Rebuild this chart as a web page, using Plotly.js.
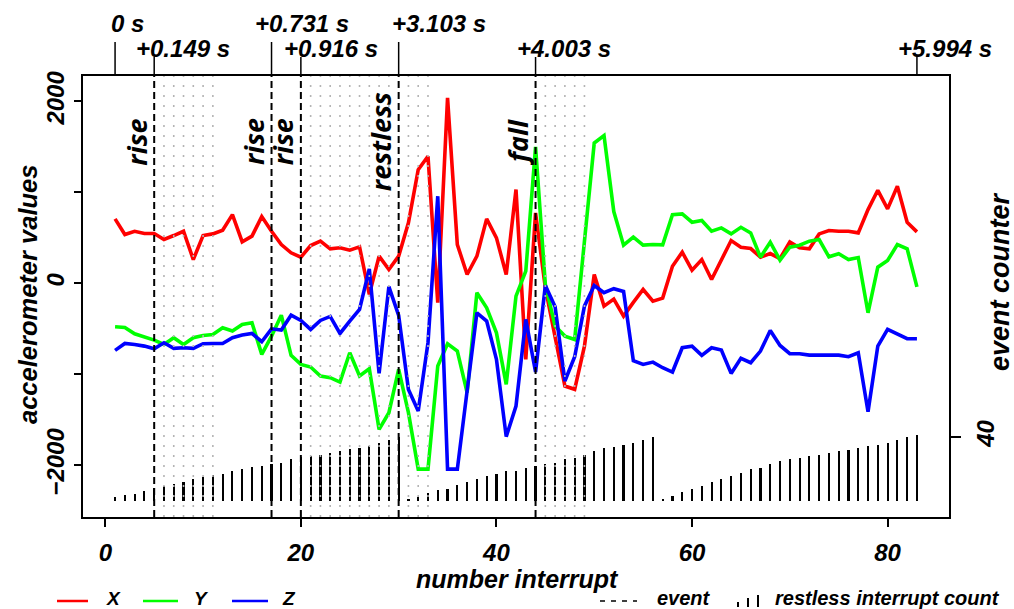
<!DOCTYPE html>
<html>
<head>
<meta charset="utf-8">
<script src="https://cdn.plot.ly/plotly-3.0.1.min.js"></script>
<style>html,body{margin:0;padding:0;background:#fff;}#chart{width:1014px;height:609px;}</style>
</head>
<body>
<div id="chart"></div>
<script>
// ---- data ----
const accX = [710,538,574,549,549,483,527,574,263,527,545,585,757,457,520,735,574,428,337,289,
  417,465,381,392,366,402,-120,300,154,300,666,1251,1398,-210,2040,428,99,300,710,501,
  99,1032,-834,776,-50,-578,-1127,-1163,-688,99,-249,-172,-359,-208,-66,-194,-161,190,344,146,
  263,44,263,472,399,384,289,329,274,457,392,381,545,582,574,574,556,812,1024,820,
  1068,673,567];
const accY = [-476,-483,-553,-585,-622,-670,-596,-670,-596,-571,-560,-487,-523,-450,-432,-779,-578,-348,-790,-889,
  -918,-1017,-1035,-1083,-761,-1017,-937,-1603,-1420,-944,-1420,-2040,-2040,-907,-662,-743,-1200,-102,-267,-542,
  -1109,-139,135,1500,-10,-468,-578,-615,450,1544,1625,790,421,509,421,428,424,757,765,673,
  692,574,611,545,618,556,289,454,256,399,421,465,483,293,326,263,285,-322,179,252,
  428,381,-37];
const accZ = [-735,-659,-670,-688,-717,-651,-713,-706,-713,-662,-659,-659,-596,-567,-549,-640,-498,-512,-348,-406,
  -505,-406,-362,-549,-413,-285,161,-988,-35,-350,-1164,-1401,-651,959,-2040,-2040,-1180,-322,-413,-834,
  -1683,-1347,-395,-973,-22,-256,-1072,-805,-249,-22,-102,-57,-88,-849,-889,-864,-926,-973,-706,-688,
  -790,-706,-732,-988,-823,-871,-743,-516,-681,-772,-772,-787,-787,-787,-787,-805,-761,-1409,-688,-505,
  -560,-607,-607];
const restlessCount = [2.7,3.5,4.6,6.5,8,9.6,10.8,11.7,13.8,14.8,16.2,16.9,18.8,20.2,21,21.9,23,23.8,26,27.3,
  28.1,29,30.2,31.2,32.3,33.1,34.2,36,38.1,40,1.2,2.7,4.8,6.7,7.7,9.8,11.7,13.8,15.8,16.9,
  18.8,18.8,20.8,22,22.9,24,26,27.1,29,31,32.9,34,35,36,38.1,40,1.2,3.3,5.4,7.5,
  9.6,11.7,13.8,15.6,17.7,19.8,20.8,22.9,25,26,26.9,27.9,29,30,31,32.1,33.1,34.2,35,36,
  38.1,40,41];
const eventX = [5,17,20,30,44];
const eventLabels = ['rise','rise','rise','restless','fall'];
const dottedX = [6,7,8,9,10,11,21,22,23,24,25,26,27,28,29,31,32,33,45,46,47,48,49];
const topTickX = [1,5,17,20,30,44,83];
const topTickLabels = ['0 s','+0.149 s','+0.731 s','+0.916 s','+3.103 s','+4.003 s','+5.994 s'];
const topTickRow = [0,1,0,1,0,1,1];          // 0 = upper row, 1 = lower row
const topLabelShift = [-6,-20,-19,-19,-9,-21,-21];
const seriesNames = ['X','Y','Z'];
const seriesColors = ['#ff0000','#00ff00','#0000ff'];
const xTickVals = [0,20,40,60,80];
const yTickVals = [-2000,-1000,0,1000,2000];
const yTickText = ['\u22122000','','0','','2000'];

// ---- geometry helpers (plot area in pixels) ----
const W = 1014, H = 609;
const M = {l:83, r:65, t:76, b:92};
const PW = W - M.l - M.r, PH = H - M.t - M.b;
const px2x = p => (p - M.l) / PW;           // pixel -> paper x
const py2y = p => (H - M.b - p) / PH;       // pixel -> paper y

const idx = accX.map((_, i) => i + 1);
const boldItalic = (family, size) => ({family: family, size: size, color: '#000', weight: 'bold', style: 'italic'});

const traces = [];
traces.push({
  type: 'bar', x: idx, y: restlessCount, yaxis: 'y2', width: 0.22,
  marker: {color: '#000', line: {width: 0}}, showlegend: false, hoverinfo: 'skip'
});
[accX, accY, accZ].forEach((s, k) => {
  traces.push({
    type: 'scatter', mode: 'lines', x: idx, y: s, name: seriesNames[k],
    line: {color: seriesColors[k], width: 3.6}, showlegend: false
  });
});

const shapes = [];
const annotations = [];
// light dotted verticals
dottedX.forEach(x => shapes.push({type: 'line', xref: 'x', yref: 'paper', x0: x, x1: x, y0: 0, y1: 1,
  line: {color: '#b4b4b4', width: 1.6, dash: '2px,8px'}, layer: 'above'}));
// event lines + labels
eventX.forEach((x, i) => {
  shapes.push({type: 'line', xref: 'x', yref: 'paper', x0: x, x1: x, y0: 0, y1: 1,
    line: {color: '#000', width: 2, dash: '7px,4px'}, layer: 'above'});
  annotations.push({x: x, xref: 'x', y: py2y(142), yref: 'paper', text: eventLabels[i], textangle: -90,
    xanchor: 'right', yanchor: 'middle', xshift: 2, showarrow: false, font: boldItalic('Open Sans', 27)});
});
// top time axis
const rowTop = [42, 57], rowText = [23, 48];
topTickX.forEach((x, i) => {
  const r = topTickRow[i];
  shapes.push({type: 'line', xref: 'x', yref: 'paper', x0: x, x1: x, y0: 1, y1: py2y(rowTop[r]),
    line: {color: '#000', width: 1.5}});
  annotations.push({x: x, xref: 'x', y: py2y(rowText[r]), yref: 'paper', text: topTickLabels[i],
    xanchor: 'left', yanchor: 'middle', xshift: topLabelShift[i], showarrow: false,
    font: boldItalic('Liberation Sans', 24)});
});
// axis titles
annotations.push({x: px2x(517), y: py2y(579), xref: 'paper', yref: 'paper', text: 'number interrupt',
  showarrow: false, xanchor: 'center', yanchor: 'middle', font: boldItalic('Liberation Sans', 25)});
annotations.push({x: px2x(28), y: py2y(295), xref: 'paper', yref: 'paper', text: 'accelerometer values',
  textangle: -90, showarrow: false, xanchor: 'center', yanchor: 'middle', font: boldItalic('Liberation Sans', 25.5)});
annotations.push({x: px2x(1000), y: py2y(281), xref: 'paper', yref: 'paper', text: 'event counter',
  textangle: -90, showarrow: false, xanchor: 'center', yanchor: 'middle', font: boldItalic('Liberation Sans', 27)});
// legend (drawn manually)
const legY = py2y(598);
const legLine = [[57, 88], [143, 178], [232, 268]];
const legText = [113, 201, 289];
seriesNames.forEach((n, k) => {
  shapes.push({type: 'line', xref: 'paper', yref: 'paper', x0: px2x(legLine[k][0]), x1: px2x(legLine[k][1]),
    y0: py2y(601), y1: py2y(601), line: {color: seriesColors[k], width: 2.5}});
  annotations.push({x: px2x(legText[k]), y: legY, xref: 'paper', yref: 'paper', text: n, showarrow: false,
    xanchor: 'center', yanchor: 'middle', font: boldItalic('Liberation Sans', 19)});
});
shapes.push({type: 'line', xref: 'paper', yref: 'paper', x0: px2x(600), x1: px2x(637), y0: py2y(601), y1: py2y(601),
  line: {color: '#000', width: 1.5, dash: '5px,6px'}});
annotations.push({x: px2x(655), y: legY, xref: 'paper', yref: 'paper', text: 'event', showarrow: false,
  xanchor: 'left', yanchor: 'middle', font: boldItalic('Liberation Sans', 20)});
[[738, 5], [748, 9], [758, 12]].forEach(b => shapes.push({type: 'line', xref: 'paper', yref: 'paper',
  x0: px2x(b[0]), x1: px2x(b[0]), y0: py2y(607), y1: py2y(607 - b[1]), line: {color: '#000', width: 2}}));
annotations.push({x: px2x(773), y: legY, xref: 'paper', yref: 'paper', text: 'restless interrupt count', showarrow: false,
  xanchor: 'left', yanchor: 'middle', font: boldItalic('Liberation Sans', 20)});

const tickFont = boldItalic('Liberation Sans', 24);
const layout = {
  width: W, height: H, margin: M, paper_bgcolor: '#fff', plot_bgcolor: '#fff',
  showlegend: false, bargap: 0,
  xaxis: {range: [-2.28, 86.28], tickvals: xTickVals, ticks: 'outside', ticklen: 8, tickwidth: 2, tickcolor: '#000',
    showline: true, mirror: true, linewidth: 2, linecolor: '#000', showgrid: false, zeroline: false,
    tickfont: tickFont, ticklabelstandoff: 5},
  yaxis: {range: [-2566, 2280], tickvals: yTickVals, ticktext: yTickText, tickangle: -90, ticks: 'outside', ticklen: 7,
    tickwidth: 2, tickcolor: '#000', showline: true, mirror: true, linewidth: 2, linecolor: '#000',
    showgrid: false, zeroline: false, tickfont: tickFont},
  yaxis2: {overlaying: 'y', side: 'right', range: [-10, 265.6], tickvals: [40], ticktext: ['40'], tickangle: -90,
    ticks: 'outside', ticklen: 11, tickwidth: 2, tickcolor: '#000', showline: false, showgrid: false, zeroline: false,
    tickfont: tickFont, ticklabelstandoff: 4},
  shapes: shapes, annotations: annotations
};
Plotly.newPlot('chart', traces, layout, {staticPlot: true, displayModeBar: false});
</script>
</body>
</html>
